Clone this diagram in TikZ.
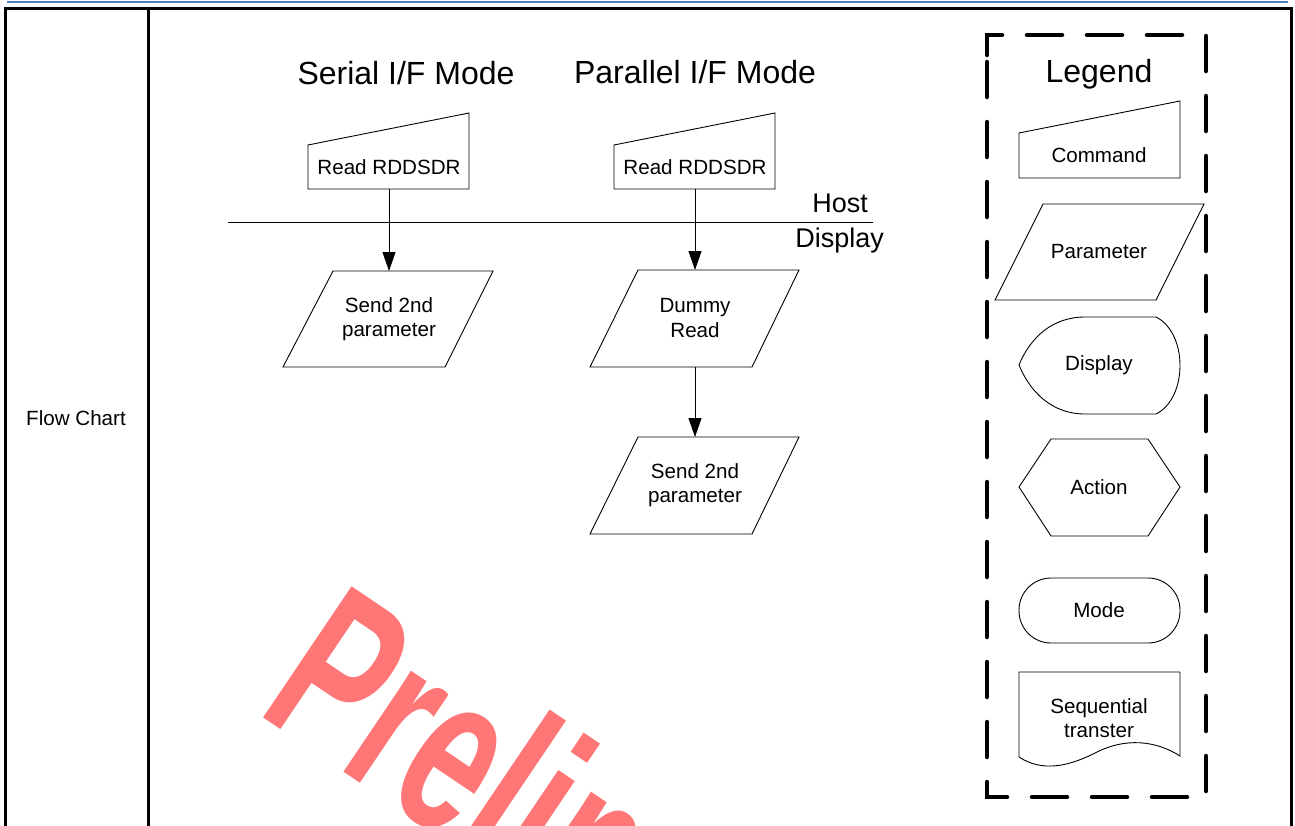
\documentclass[tikz,border=0pt]{standalone}
\usepackage{fontspec}
\setmainfont{Liberation Sans}
\usetikzlibrary{arrows.meta}
\definecolor{hdrblue}{RGB}{79,129,189}
\definecolor{wmred}{RGB}{255,118,118}
\newcommand{\fsz}[2]{\fontsize{#1}{#2}\selectfont}
\begin{document}
\begin{tikzpicture}[x=1pt,y=-1pt,
  shp/.style={draw=black,line width=0.9pt,fill=white,line join=miter},
  lbl/.style={inner sep=0pt,align=center,font=\fsz{20.6}{24.5}},
  ttl/.style={inner sep=0pt,font=\fsz{32}{36}},
  side/.style={inner sep=0pt,font=\fsz{27}{30}},
  arr/.style={draw=black,line width=0.9pt,-{Triangle[length=19pt,width=13pt]}},
  grid/.style={draw=black,line width=#1},
  legbox/.style={draw=black,line width=4.5pt,line cap=round,dash pattern=on 35pt off 25pt}
]
\useasboundingbox (0,0) rectangle (1295,825);

% watermark
\begin{scope}
\clip (150,10) rectangle (1289,825);
\node[anchor=base west,inner sep=0pt,text=wmred,rotate=-34,xscale=0.63,
      font=\fsz{230}{240}\bfseries] (wm) at (255,712) {Preliminary};
\end{scope}

% header line and table
\draw[hdrblue,line width=2.5pt] (7,1.8) -- (1288,1.8);
\draw[grid=3pt] (5,830) -- (5,8) -- (1291,8) -- (1291,830);
\draw[grid=2.2pt] (148.5,8) -- (148.5,830);
\node[lbl] (fc) at (76,418) {Flow Chart};

% titles
\node[ttl] (tser) at (406,73) {Serial I/F Mode};
\node[ttl] (tpar) at (695,72) {Parallel I/F Mode};

% host / display divider
\coordinate (hl) at (228,222);
\coordinate (hr) at (873,222);
\draw[black,line width=0.9pt] (hl) -- (hr);
\node[side,anchor=east] (host) at (868,203) {Host};
\node[side,anchor=east] (disp) at (884,241) {Display};

% serial column
\draw[shp] (308,189) -- (308,145) -- (469,113) -- (469,189) -- cycle;
\node[lbl] (s1) at (389,167) {Read RDDSDR};
\coordinate (s1b) at (389,189);
\draw[shp] (333,271) -- (493,271) -- (445,367) -- (283,367) -- cycle;
\node[lbl] (s2) at (389,319) {Send 2nd\\parameter};
\coordinate (s2t) at (389,271);
\draw[arr] (s1b) -- (s2t);

% parallel column
\draw[shp] (614,189) -- (614,145) -- (775,113) -- (775,189) -- cycle;
\node[lbl] (p1) at (695,167) {Read RDDSDR};
\coordinate (p1b) at (695,189);
\draw[shp] (638,270) -- (799,270) -- (752,367) -- (590,367) -- cycle;
\node[lbl] (p2) at (695,318) {Dummy\\Read};
\coordinate (p2t) at (695,270);
\coordinate (p2b) at (695,367);
\draw[shp] (638,437) -- (799,437) -- (752,534) -- (590,534) -- cycle;
\node[lbl] (p3) at (695,485) {Send 2nd\\parameter};
\coordinate (p3t) at (695,437);
\draw[arr] (p1b) -- (p2t);
\draw[arr] (p2b) -- (p3t);

% legend
\draw[legbox] (987,55) -- (987,35) -- (1206,35) -- (1206,797) -- (987,797) -- cycle;
\node[ttl] (leg) at (1099,74) {Legend};
\draw[shp] (1019,178) -- (1019,133) -- (1180,101) -- (1180,178) -- cycle;
\node[lbl] (lcmd) at (1099,155) {Command};
\draw[shp] (1043,204) -- (1204,204) -- (1156,300) -- (995,300) -- cycle;
\node[lbl] (lpar) at (1099,252) {Parameter};
\draw[shp] (1019,365) .. controls (1030,338) and (1052,317) .. (1085,317) -- (1156,317)
  .. controls (1188,333) and (1188,398) .. (1156,414) -- (1085,414)
  .. controls (1052,414) and (1030,392) .. (1019,365) -- cycle;
\node[lbl] (ldisp) at (1099,365) {Display};
\draw[shp] (1019,487) -- (1051,439) -- (1148,439) -- (1180,487) -- (1148,536) -- (1051,536) -- cycle;
\node[lbl] (lact) at (1099,487) {Action};
\draw[shp,rounded corners=32pt] (1019,578) rectangle (1180,643);
\node[lbl] (lmode) at (1099,610) {Mode};
\draw[shp] (1019,757) -- (1019,672) -- (1180,672) -- (1180,756)
  .. controls (1155,740) and (1125,738) .. (1097,752)
  .. controls (1068,767) and (1042,772) .. (1019,757) -- cycle;
\node[lbl] (lseq) at (1099,718) {Sequential\\transter};
\end{tikzpicture}
\end{document}
